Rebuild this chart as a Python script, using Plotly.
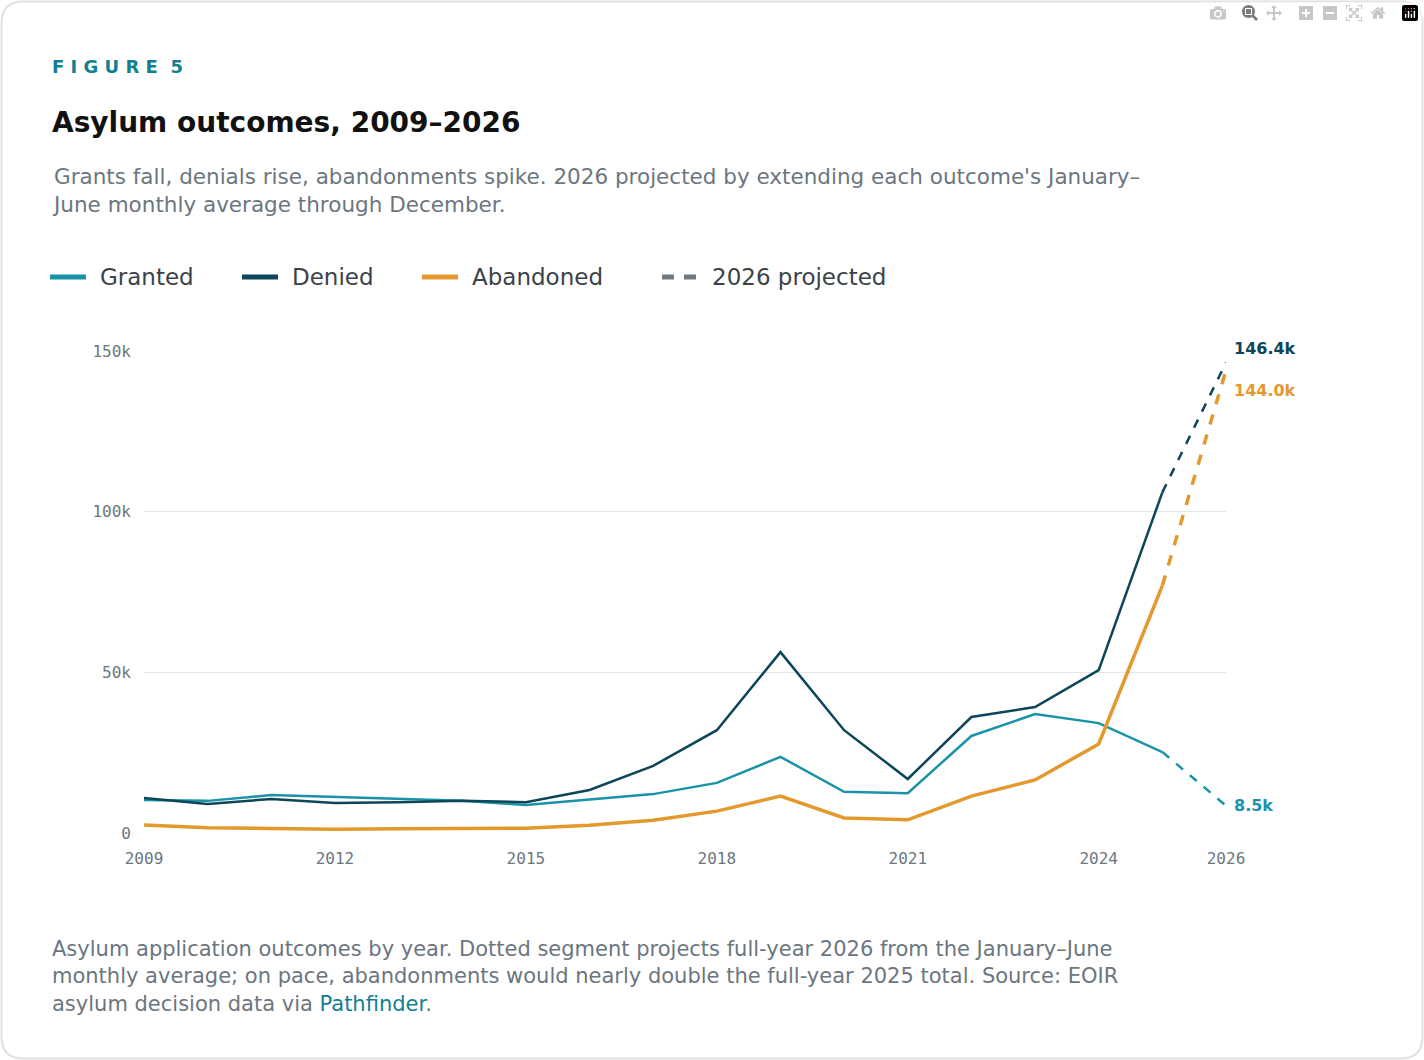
import plotly.graph_objects as go

years = list(range(2009, 2027))
granted = [10.3, 10.0, 11.8, 11.2, 10.6, 10.0, 8.7, 10.3, 12.1, 15.6, 23.7, 12.8, 12.4, 30.2, 37.0, 34.2, 25.2, 8.5]
denied = [10.9, 9.0, 10.6, 9.3, 9.6, 10.0, 9.6, 13.4, 20.9, 32.0, 56.3, 32.0, 16.8, 36.1, 39.2, 50.7, 106.0, 146.4]
abandoned = [2.5, 1.6, 1.4, 1.2, 1.3, 1.5, 1.5, 2.4, 4.0, 6.8, 11.5, 4.7, 4.1, 11.5, 16.5, 27.7, 77.0, 144.0]
series = [("Granted", granted, "#1a93a8"), ("Denied", denied, "#0c4658"), ("Abandoned", abandoned, "#e3992e")]
x_ticks = [2009, 2012, 2015, 2018, 2021, 2024, 2026]

W, H = 1424, 1060
L, R, T, B = 144, 1226, 351, 833
FONT = "DejaVu Sans"


def px(x):
    return (x - L) / (R - L)


def py(y):
    return (B - y) / (B - T)


fig = go.Figure()
label_shift = {"Granted": 0, "Denied": 14, "Abandoned": -20}
for name, vals, color in series:
    width = 3.5 if name == "Abandoned" else 2.5
    fig.add_trace(go.Scatter(x=years[:-1], y=[v * 1000 for v in vals[:-1]], mode="lines",
                             line=dict(color=color, width=width), cliponaxis=False, showlegend=False))
    fig.add_trace(go.Scatter(x=years[-2:], y=[v * 1000 for v in vals[-2:]], mode="lines",
                             line=dict(color=color, width=width, dash="dash"), cliponaxis=False, showlegend=False))
    fig.add_annotation(x=years[-1], y=vals[-1] * 1000, text=f"<b>{vals[-1]:.1f}k</b>", showarrow=False,
                       xanchor="left", xshift=6, yshift=label_shift[name],
                       font=dict(family=FONT, size=16, color=color))

# card border
r = 22
x0, x1, y0, y1 = 1.5, W - 1.5, 1.5, H - 1.5
def P(x, y):
    return f"{px(x)},{py(y)}"
path = (f"M {P(x0 + r, y0)} L {P(x1 - r, y0)} Q {P(x1, y0)} {P(x1, y0 + r)} "
        f"L {P(x1, y1 - r)} Q {P(x1, y1)} {P(x1 - r, y1)} L {P(x0 + r, y1)} "
        f"Q {P(x0, y1)} {P(x0, y1 - r)} L {P(x0, y0 + r)} Q {P(x0, y0)} {P(x0 + r, y0)} Z")
fig.add_shape(type="path", path=path, xref="paper", yref="paper", line=dict(color="#dde1e4", width=2), layer="below")

# legend
legend = [("Granted", "#1a93a8", 50, "solid"), ("Denied", "#0c4658", 242, "solid"),
          ("Abandoned", "#e3992e", 422, "solid"), ("2026 projected", "#6f7a82", 662, "dash")]
for text, color, lx, dash in legend:
    if dash == "solid":
        fig.add_shape(type="line", xref="paper", yref="paper", x0=px(lx), x1=px(lx + 36), y0=py(277), y1=py(277),
                      line=dict(color=color, width=5))
    else:
        for sx in (lx, lx + 22):
            fig.add_shape(type="line", xref="paper", yref="paper", x0=px(sx), x1=px(sx + 12), y0=py(277), y1=py(277),
                          line=dict(color=color, width=5))
    fig.add_annotation(xref="paper", yref="paper", x=px(lx + 48), y=py(277), text=text, showarrow=False,
                       xanchor="left", yanchor="middle", font=dict(family=FONT, size=23, color="#3b4248"))

texts = [
    (66, "<b>F I G U R E  5</b>", 18, "#127f90"),
    (123, "<b>Asylum outcomes, 2009–2026</b>", 28, "#111111"),
    (190, "Grants fall, denials rise, abandonments spike. 2026 projected by extending each outcome's January–<br>June monthly average through December.", 21.5, "#6b7680"),
    (976, "Asylum application outcomes by year. Dotted segment projects full-year 2026 from the January–June<br>monthly average; on pace, abandonments would nearly double the full-year 2025 total. Source: EOIR<br>asylum decision data via <span style='color:#127f90'>Pathfinder</span>.", 21, "#6b7680"),
]
for ty, text, size, color in texts:
    fig.add_annotation(xref="paper", yref="paper", x=px(50), y=py(ty), text=text, showarrow=False,
                       xanchor="left", yanchor="middle", align="left",
                       font=dict(family=FONT, size=size, color=color))

fig.update_layout(
    width=W, height=H, margin=dict(l=L, r=W - R, t=T, b=H - B),
    paper_bgcolor="#ffffff", plot_bgcolor="#ffffff", showlegend=False,
    xaxis=dict(range=[2009, 2026], tickvals=x_ticks, showgrid=False, zeroline=False, showline=False,
               ticks="", ticklabelstandoff=14,
               tickfont=dict(family="DejaVu Sans Mono", size=16, color="#6b7680")),
    yaxis=dict(range=[0, 150000], tickvals=[0, 50000, 100000, 150000], ticktext=["0", "50k", "100k", "150k"],
               showgrid=True, gridcolor="#e4e7ea", gridwidth=1, zeroline=False, ticks="",
               ticklabelstandoff=12, tickfont=dict(family="DejaVu Sans Mono", size=16, color="#6b7680")),
)
fig.write_html("out.html", post_script="document.body.style.margin='0px';")
